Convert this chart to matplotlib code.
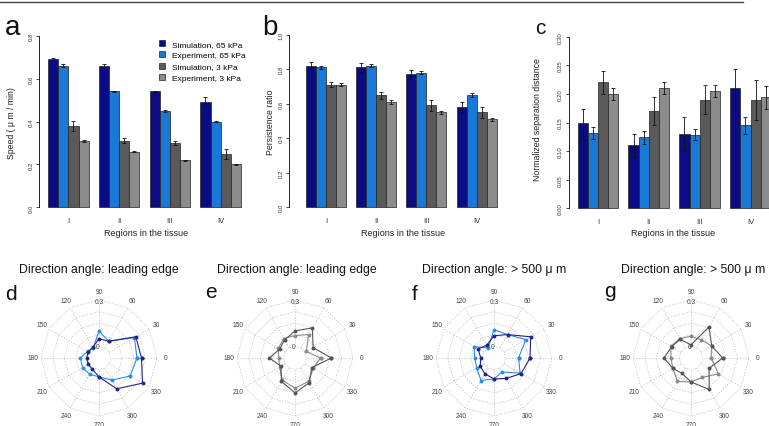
import numpy as np
import matplotlib
matplotlib.use("Agg")
import matplotlib.pyplot as plt
from matplotlib.lines import Line2D

plt.rcParams["font.family"] = ["Liberation Sans", "DejaVu Sans"]

W, H = 769, 427

# ---- bar chart data (a, b, c) ----
REGIONS = ["I", "II", "III", "IV"]
SERIES = ["Simulation, 65 kPa", "Experiment, 65 kPa",
          "Simulation, 3 kPa", "Experiment, 3 kPa"]
BAR_COLORS = ["#0b0b84", "#1a78d6", "#5a5a5a", "#8c8c8c"]

speed_mean = [
    [0.69, 0.66, 0.54, 0.49],
    [0.66, 0.54, 0.45, 0.40],
    [0.38, 0.31, 0.30, 0.25],
    [0.31, 0.26, 0.22, 0.20],
]
speed_err = [
    [0.008, 0.008, 0.003, 0.023],
    [0.008, 0.004, 0.005, 0.003],
    [0.022, 0.012, 0.011, 0.023],
    [0.006, 0.004, 0.002, 0.002],
]

persist_mean = [
    [0.82, 0.81, 0.77, 0.58],
    [0.81, 0.82, 0.78, 0.65],
    [0.71, 0.65, 0.59, 0.55],
    [0.71, 0.61, 0.55, 0.51],
]
persist_err = [
    [0.02, 0.025, 0.025, 0.03],
    [0.01, 0.008, 0.008, 0.01],
    [0.015, 0.02, 0.03, 0.03],
    [0.01, 0.01, 0.008, 0.01],
]

sep_mean = [
    [0.150, 0.110, 0.130, 0.210],
    [0.132, 0.124, 0.129, 0.145],
    [0.220, 0.170, 0.190, 0.190],
    [0.200, 0.210, 0.205, 0.194],
]
sep_err = [
    [0.023, 0.020, 0.030, 0.034],
    [0.010, 0.011, 0.010, 0.015],
    [0.020, 0.024, 0.025, 0.035],
    [0.010, 0.010, 0.010, 0.020],
]

# ---- polar data (d, e, f, g), radius at 0, 30, ..., 330 degrees ----
ANGLES_DEG = [0, 30, 60, 90, 120, 150, 180, 210, 240, 270, 300, 330]

d_sim = [0.20, 0.20, 0.05, 0.05, 0.005, 0.005, 0.005, 0.005, 0.01, 0.047, 0.155, 0.25]
d_exp = [0.17, 0.19, 0.05, 0.10, 0.00, 0.01, 0.045, 0.048, 0.046, 0.047, 0.09, 0.158]

e_sim = [0.16, 0.06, 0.15, 0.10, 0.06, 0.04, 0.09, 0.03, 0.10, 0.15, 0.11, 0.05]
e_exp = [0.09, 0.01, 0.10, 0.07, 0.07, 0.05, 0.03, 0.04, 0.09, 0.12, 0.10, 0.06]

f_sim = [0.158, 0.199, 0.10, 0.069, 0.02, 0.043, 0.011, 0.028, 0.043, 0.06, 0.078, 0.127]
f_exp = [0.084, 0.162, 0.10, 0.108, 0.00, 0.073, 0.05, 0.054, 0.093, 0.06, 0.03, 0.12]

g_sim = [0.13, 0.08, 0.157, 0.01, 0.065, 0.07, 0.10, 0.06, 0.04, 0.08, 0.16, 0.06]
g_exp = [0.055, 0.08, 0.06, 0.065, 0.07, 0.075, 0.055, 0.06, 0.10, 0.08, 0.07, 0.13]

POLAR_TITLES = ["Direction angle: leading edge", "Direction angle: leading edge",
                "Direction angle: > 500 \u03bc m", "Direction angle: > 500 \u03bc m"]


def px_axes(fig, left, top, right, bottom, **kw):
    return fig.add_axes([left / W, 1 - bottom / H, (right - left) / W,
                         (bottom - top) / H], **kw)


def bar_panel(fig, box, xlim, ylim, yticks, fmt, means, errs, ylabel,
              ylabel_xy, xlabel_xy):
    ax = px_axes(fig, *box)
    for k in range(4):
        x = [1 + g * 5 + k + 0.5 for g in range(4)]
        ax.bar(x, means[k], width=1.0, color=BAR_COLORS[k],
               edgecolor="#222222", linewidth=0.5, label=SERIES[k])
        ax.errorbar(x, means[k], yerr=errs[k], fmt="none", ecolor="#111111",
                    elinewidth=0.6, capsize=1.3, capthick=0.6)
    ax.set_xlim(*xlim)
    ax.set_ylim(*ylim)
    for s in ["top", "right", "bottom"]:
        ax.spines[s].set_visible(False)
    ax.spines["left"].set_bounds(yticks[0], yticks[-1])
    ax.spines["left"].set_linewidth(0.6)
    ax.set_yticks(yticks)
    ax.set_yticklabels([fmt % v for v in yticks], rotation=90, va="center",
                       fontsize=4.3, color="#333333")
    ax.tick_params(axis="y", length=2.5, width=0.5, pad=1.5)
    ax.set_xticks([3 + g * 5 for g in range(4)])
    ax.set_xticklabels(REGIONS, fontsize=5.5, color="#333333")
    ax.tick_params(axis="x", length=0, pad=2)
    ax.patch.set_visible(False)
    fig.text(ylabel_xy[0] / W, 1 - ylabel_xy[1] / H, ylabel, rotation=90,
             ha="center", va="center", fontsize=6.3, color="#222222")
    fig.text(xlabel_xy[0] / W, 1 - xlabel_xy[1] / H, "Regions in the tissue",
             ha="center", va="center", fontsize=6.5, color="#222222")
    return ax


def polar_panel(fig, cx, cy, R, sim, exp, colors, title, title_x):
    ax = px_axes(fig, cx - R, cy - R, cx + R, cy + R, projection="polar")
    # the r = 0 ring sits at one fifth of the outer radius
    rmax, rmin = 0.3, -0.075
    ax.set_ylim(rmin, rmax)
    ax.grid(False)
    ax.axis("off")

    th = np.deg2rad(ANGLES_DEG + [360])
    grid_kw = dict(color="#bdbdbd", lw=0.5, ls=(0, (2, 2)))
    for rr in np.linspace(0, rmax, 5):
        ax.plot(th, [rr] * len(th), **grid_kw)
    for a in th[:-1]:
        ax.plot([a, a], [0, rmax], **grid_kw)

    for vals, c in [(exp, colors[1]), (sim, colors[0])]:
        ax.plot(th, list(vals) + [vals[0]], "-o", color=c, lw=0.8, ms=1.8)

    rl = rmin + 1.14 * (rmax - rmin)
    for a in ANGLES_DEG:
        ax.text(np.deg2rad(a), rl, str(a), ha="center", va="center",
                fontsize=4.8, color="#444444")
    ax.text(np.pi / 2, 0.29, "0.3", ha="center", va="center", fontsize=4.8,
            color="#444444")
    ax.text(np.pi / 2 + 0.15, 0.0, "0", ha="center", va="center",
            fontsize=4.8, color="#444444")
    fig.text(title_x / W, 1 - 270 / H, title, ha="center", va="center",
             fontsize=8.8, color="#111111")
    return ax


fig = plt.figure(figsize=(W / 100, H / 100), dpi=100)

fig.add_artist(Line2D([0, 743 / W], [1 - 3 / H, 1 - 3 / H], color="#444444",
                      lw=1.0))

ax_a = bar_panel(fig, (38.9, 29.8, 248.7, 215.2), (0.1, 20.76), (-0.032, 0.832),
                 [0.0, 0.2, 0.4, 0.6, 0.8], "%.1f", speed_mean, speed_err,
                 "Speed ( \u03bc m / min)", (12, 123), (146, 234))
ax_a.legend(loc="upper left", bbox_to_anchor=(159 / W, 1 - 41 / H),
            bbox_transform=fig.transFigure, frameon=False, fontsize=6.0,
            handlelength=0.75, handleheight=0.75, handletextpad=0.8,
            labelspacing=0.4, borderpad=0, borderaxespad=0)

bar_panel(fig, (288.9, 28.8, 504.3, 215.2), (-0.7, 20.76), (-0.04, 1.04),
          [0.0, 0.2, 0.4, 0.6, 0.8, 1.0], "%.1f", persist_mean, persist_err,
          "Persistence ratio", (270.7, 122), (403, 234))

bar_panel(fig, (568.5, 30.8, 778.6, 216.2), (0.1, 20.76), (-0.012, 0.312),
          [0.0, 0.05, 0.10, 0.15, 0.20, 0.25, 0.30], "%.2f", sep_mean, sep_err,
          "Normalized separation distance", (538, 120), (673.5, 234))

BLUES = ["#22228c", "#2a8ee0"]
GRAYS = ["#555555", "#8a8a8a"]
polar_panel(fig, 99, 359, 58, d_sim, d_exp, BLUES, POLAR_TITLES[0], 98.5)
polar_panel(fig, 295, 359, 58, e_sim, e_exp, GRAYS, POLAR_TITLES[1], 297)
polar_panel(fig, 494, 359, 58, f_sim, f_exp, BLUES, POLAR_TITLES[2], 494.5)
polar_panel(fig, 691, 359, 58, g_sim, g_exp, GRAYS, POLAR_TITLES[3], 693)

for letter, x, y, size in [("a", 5, 35, 20), ("b", 262, 35, 20), ("c", 535, 34, 15),
                           ("d", 5, 300, 15), ("e", 205, 298, 15),
                           ("f", 412, 300, 15), ("g", 604, 297, 15)]:
    fig.text(x / W, 1 - y / H, letter, ha="left", va="baseline", fontsize=size,
             color="#111111")

fig.savefig("out.png", dpi=100)
